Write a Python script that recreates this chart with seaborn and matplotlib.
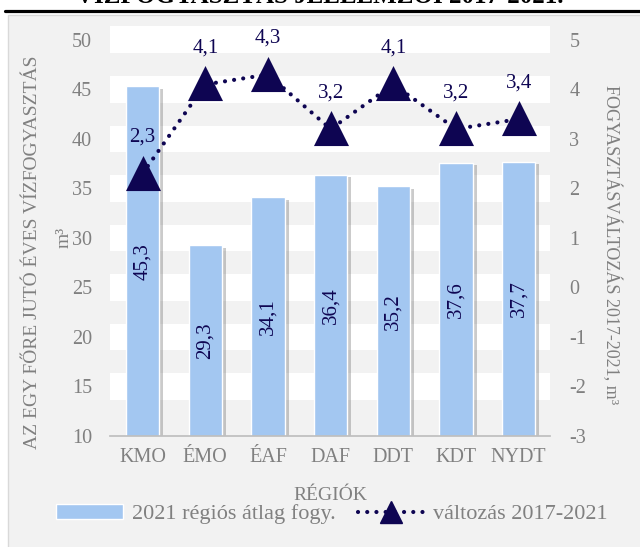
import pandas as pd
import seaborn as sns
from matplotlib import pyplot as plt
from matplotlib import patheffects as pe
from matplotlib.patches import Rectangle, Patch
from matplotlib.lines import Line2D


regions = ["KMO", "ÉMO", "ÉAF", "DAF", "DDT", "KDT", "NYDT"]
consumption_2021 = [45.3, 29.3, 34.1, 36.4, 35.2, 37.6, 37.7]
change_2017_2021 = [2.3, 4.1, 4.3, 3.2, 4.1, 3.2, 3.4]
left_ticks = [10, 15, 20, 25, 30, 35, 40, 45, 50]
right_ticks = [-3, -2, -1, 0, 1, 2, 3, 4, 5]

df = pd.DataFrame(
    {"region": regions, "fogy": consumption_2021, "valtozas": change_2017_2021}
)

sns.set_theme(style="white")
plt.rcParams["font.family"] = ["Liberation Serif", "DejaVu Serif"]
plt.rcParams["axes.unicode_minus"] = False

BAR = "#a3c7f1"
NAVY = "#0e0552"
GREY = "#808080"
DOTS = (0, (0.01, 2.2))

fig = plt.figure(figsize=(6.4, 5.47), dpi=100, facecolor="white")
W, H = 640, 547

# chart frame + title remnant at the top
fig.add_artist(
    Rectangle(
        (8 / W, -0.02), 1, 1 - 15 / H + 0.02,
        transform=fig.transFigure, facecolor="#f2f2f2",
        edgecolor="#d9d9d9", lw=1, zorder=-10,
    )
)
fig.add_artist(
    Line2D([5 / W, 1], [1 - 11 / H] * 2, transform=fig.transFigure,
           color="black", lw=2.3)
)
fig.text(0.5, 1 - 3 / H, "VÍZFOGYASZTÁS JELLEMZŐI 2017-2021.", ha="center",
         va="baseline", fontsize=18, fontweight="bold", color="black")

ax = fig.add_axes([110 / W, 111 / H, 440 / W, 411 / H])
ax.set_facecolor("none")

# white stripes around the gridline positions
for t in left_ticks[1:]:
    ax.axhspan(t - 1.35, t + 1.35, color="white", lw=0, zorder=0)

sns.barplot(data=df, x="region", y="fogy", color=BAR, width=0.53,
            saturation=1, ax=ax, zorder=2)
for bar in ax.containers[0]:
    bar.set_path_effects([
        pe.SimplePatchShadow(offset=(3, -2), shadow_rgbFace="#555555", alpha=0.3),
        pe.Normal(),
    ])

ax.set_ylim(10, 51.5)
ax.set_xlim(-0.52, 6.5)
for i, v in enumerate(consumption_2021):
    ax.text(i, (10 + v) / 2, f"{v}".replace(".", ","), rotation=90,
            ha="center", va="center", fontsize=15, color=NAVY, zorder=3)

ax2 = ax.twinx()
sns.pointplot(data=df, x="region", y="valtozas", ax=ax2, color=NAVY,
              errorbar=None, marker="^", markersize=21, linestyle=DOTS,
              linewidth=3, dash_capstyle="round")
ax2.set_ylim(-3, 5.3)
ax2.set_xlim(-0.52, 6.5)
for i, v in enumerate(change_2017_2021):
    ax2.annotate(f"{v}".replace(".", ","), (i, v), xytext=(0, 26),
                 textcoords="offset points", ha="center", va="center",
                 fontsize=15, color=NAVY)

ax.set_yticks(left_ticks)
ax.set_yticklabels([str(t) for t in left_ticks])
ax2.set_yticks(right_ticks)
ax2.set_yticklabels([str(t) for t in right_ticks])
ax.tick_params(axis="y", length=0, labelsize=14.5, labelcolor=GREY, pad=13)
ax.tick_params(axis="x", length=0, labelsize=14.5, labelcolor=GREY, pad=9)
ax2.tick_params(axis="y", length=0, labelsize=14.5, labelcolor=GREY, pad=14)

for s in ["left", "right", "top"]:
    ax.spines[s].set_visible(False)
ax.spines["bottom"].set_color("#bfbfbf")
for s in ax2.spines.values():
    s.set_visible(False)

ax.set_ylabel("")
ax2.set_ylabel("")
ax.set_xlabel("RÉGIÓK", fontsize=14, color=GREY, labelpad=14)

fig.text(33 / W, 1 - 252 / H, "AZ EGY FŐRE JUTÓ ÉVES VÍZFOGYASZTÁS",
         rotation=90, ha="center", va="center", fontsize=14, color=GREY)
fig.text(64 / W, 1 - 237 / H, "m³", rotation=90, ha="center", va="center",
         fontsize=14, color=GREY)
fig.text(612 / W, 1 - 245 / H, "FOGYASZTÁSVÁLTOZÁS 2017-2021, m³",
         rotation=270, ha="center", va="center", fontsize=13, color=GREY)

handles = [
    Patch(facecolor=BAR, label="2021 régiós átlag fogy."),
    Line2D([], [], color=NAVY, linestyle=DOTS, lw=3, dash_capstyle="round",
           marker="^", markersize=16, label="változás 2017-2021"),
]
fig.legend(handles=handles, loc="center", bbox_to_anchor=(332 / W, 33 / H),
           ncol=2, frameon=False, fontsize=16, labelcolor=GREY,
           handlelength=3.0, columnspacing=1.0, handletextpad=0.4)

plt.savefig("out.png", dpi=100, facecolor=fig.get_facecolor())
